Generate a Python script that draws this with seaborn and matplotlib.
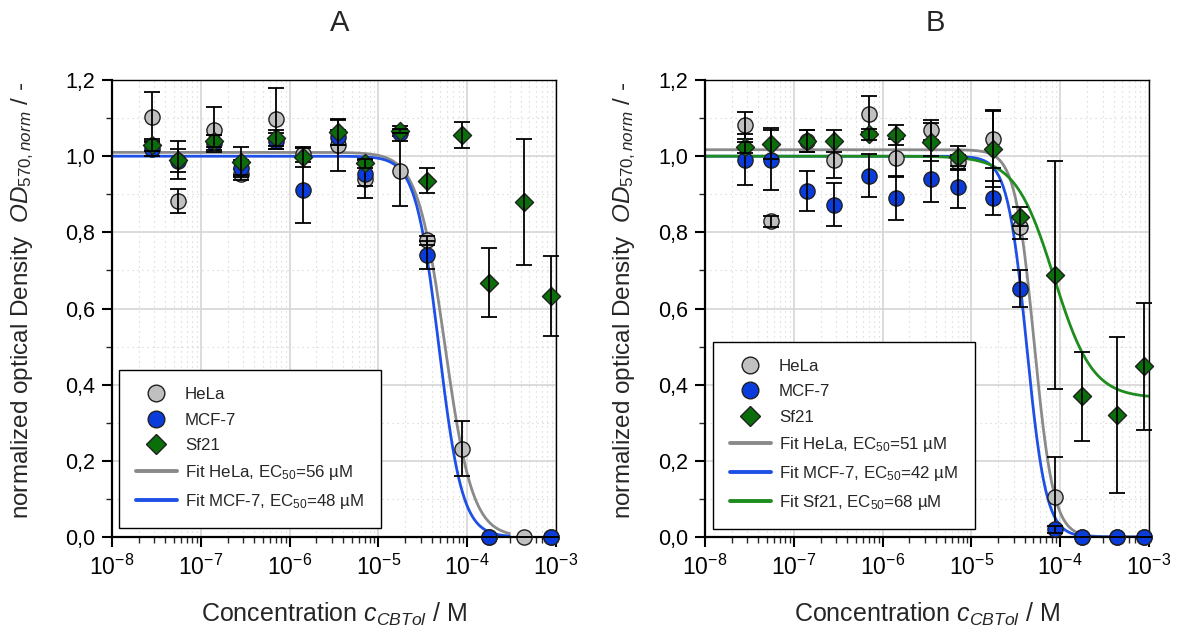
import numpy as np
import pandas as pd
import matplotlib
matplotlib.use("Agg")
import matplotlib.pyplot as plt
import matplotlib.ticker as mticker
from matplotlib.lines import Line2D
import seaborn as sns

sns.set_theme(style="white")
plt.rcParams["font.family"] = ["Liberation Sans", "DejaVu Sans"]
plt.rcParams["mathtext.fontset"] = "custom"
plt.rcParams["mathtext.rm"] = "Liberation Sans"
plt.rcParams["mathtext.it"] = "Liberation Sans:italic"
plt.rcParams["mathtext.bf"] = "Liberation Sans:bold"

# concentrations (M)
conc = [2.8e-8, 5.6e-8, 1.4e-7, 2.8e-7, 7.0e-7, 1.4e-6, 3.5e-6, 7.0e-6,
        1.75e-5, 3.5e-5, 8.75e-5, 1.75e-4, 4.375e-4, 8.75e-4]

# panel A
hela_a = [1.103, 0.882, 1.070, 0.952, 1.098, 1.005, 1.029, 0.939, 0.960, 0.779, 0.232, 0.0, 0.0, 0.0]
hela_a_err = [0.066, 0.031, 0.060, 0.015, 0.080, 0.020, 0.068, 0.050, 0.092, 0.012, 0.073, 0.0, 0.0, 0.0]
mcf_a = [1.02, 0.988, 1.035, 0.97, 1.04, 0.912, 1.05, 0.952, 1.06, 0.741, np.nan, 0.0, np.nan, 0.0]
mcf_a_err = [0.02, 0.03, 0.02, 0.02, 0.02, 0.087, 0.02, 0.03, 0.02, 0.036, np.nan, 0.0, np.nan, 0.0]
sf_a = [1.029, 0.990, 1.040, 0.984, 1.048, 0.997, 1.063, 0.981, 1.066, 0.935, 1.056, 0.668, 0.880, 0.634]
sf_a_err = [0.015, 0.05, 0.015, 0.04, 0.02, 0.025, 0.033, 0.012, 0.005, 0.033, 0.034, 0.09, 0.165, 0.105]

# panel B
hela_b = [1.081, 0.829, 1.040, 0.990, 1.111, 0.995, 1.068, 0.984, 1.046, 0.813, 0.106, 0.0, 0.0, 0.0]
hela_b_err = [0.035, 0.015, 0.03, 0.047, 0.047, 0.05, 0.026, 0.02, 0.076, 0.03, 0.105, 0.0, 0.0, 0.0]
mcf_b = [0.990, 0.990, 0.908, 0.873, 0.949, 0.890, 0.940, 0.919, 0.890, 0.652, 0.020, 0.0, 0.0, 0.0]
mcf_b_err = [0.067, 0.08, 0.052, 0.056, 0.056, 0.058, 0.06, 0.054, 0.045, 0.048, 0.01, 0.0, 0.0, 0.0]
sf_b = [1.023, 1.033, 1.040, 1.040, 1.057, 1.055, 1.037, 0.997, 1.018, 0.841, 0.688, 0.369, 0.321, 0.448]
sf_b_err = [0.015, 0.04, 0.03, 0.03, 0.015, 0.026, 0.05, 0.03, 0.1, 0.025, 0.3, 0.117, 0.205, 0.167]

# fit parameters: top, bottom, midpoint (M), hill slope, x end
fit_hela_a = [1.01, 0.0, 56e-6, 2.8, 3e-4]
fit_mcf_a = [1.0, 0.0, 48e-6, 3.3, 3e-4]
fit_hela_b = [1.017, 0.0, 51e-6, 4.0, 1e-3]
fit_mcf_b = [1.0, 0.0, 42e-6, 4.0, 1e-3]
fit_sf_b = [1.0, 0.365, 85e-6, 2.0, 1e-3]

ec50_a = ["56", "48"]
ec50_b = ["51", "42", "68"]

C_HELA = "#c0c0c0"
C_MCF = "#0a3cdc"
C_SF = "#0a6e0a"
L_HELA = "#8a8a8a"
L_MCF = "#1e50e6"
L_SF = "#1e8c1e"


def fit_curve(p):
    top, bottom, x50, h, xend = p
    x = np.logspace(-8, np.log10(xend), 400)
    y = bottom + (top - bottom) / (1 + (x / x50) ** h)
    return pd.DataFrame({"x": x, "y": y})


def draw_points(ax, y, err, marker, face, s, z):
    sns.scatterplot(x=conc, y=y, ax=ax, marker=marker, s=s, color=face,
                    edgecolor="#202020", linewidth=1.0, zorder=z, clip_on=False,
                    legend=False)
    ax.errorbar(conc, y, yerr=err, fmt="none", ecolor="black", elinewidth=1.3,
                capsize=6, capthick=1.3, zorder=z + 0.5, clip_on=False)


def draw_fit(ax, p, color):
    df = fit_curve(p)
    sns.lineplot(data=df, x="x", y="y", ax=ax, color=color, lw=2.0,
                 estimator=None, sort=False, zorder=2.5)


def style_axes(ax):
    ax.set_xscale("log")
    ax.set_xlim(1e-8, 1e-3)
    ax.set_ylim(0, 1.2)
    ax.set_axisbelow(True)
    ax.xaxis.set_major_locator(mticker.LogLocator(base=10, numticks=10))
    ax.xaxis.set_minor_locator(mticker.LogLocator(base=10, subs=np.arange(2, 10), numticks=20))
    ax.xaxis.set_minor_formatter(mticker.NullFormatter())
    ax.xaxis.set_major_formatter(mticker.FuncFormatter(
        lambda v, pos: r"$\mathregular{10^{%d}}$" % int(round(np.log10(v)))))
    ax.yaxis.set_major_locator(mticker.MultipleLocator(0.2))
    ax.yaxis.set_minor_locator(mticker.MultipleLocator(0.1))
    ax.yaxis.set_major_formatter(mticker.FuncFormatter(
        lambda v, pos: f"{v:.1f}".replace(".", ",")))
    ax.grid(which="major", color="#d6d6d6", lw=1.2, ls="-")
    ax.grid(which="minor", color="#d0d0d0", lw=0.8, ls=(0, (1, 3.5)))
    ax.tick_params(which="major", direction="out", length=7, width=1.5,
                   left=True, bottom=True, top=False, right=False,
                   labelsize=15.5, pad=5, colors="black")
    ax.tick_params(axis="x", which="major", labelsize=16.5, pad=6)
    ax.tick_params(which="minor", direction="out", length=4, width=1.0,
                   left=True, bottom=True, top=False, right=False)
    for side in ["left", "bottom"]:
        ax.spines[side].set_linewidth(1.6)
        ax.spines[side].set_color("black")
    for side in ["top", "right"]:
        ax.spines[side].set_linewidth(1.0)
        ax.spines[side].set_color("black")
    ax.set_xlabel("")
    ax.set_ylabel("")


def point_handle(marker, face, ms):
    return Line2D([], [], ls="none", marker=marker, markersize=ms,
                  markerfacecolor=face, markeredgecolor="#202020", markeredgewidth=1.0)


def line_handle(color):
    return Line2D([], [], color=color, lw=2.8)


fig = plt.figure(figsize=(11.91, 6.34), dpi=100)
W, H = 1191, 634
ax_a = fig.add_axes([112 / W, (H - 537) / H, 444 / W, 457 / H])
ax_b = fig.add_axes([705 / W, (H - 537) / H, 444 / W, 457 / H])

# panel A
draw_fit(ax_a, fit_hela_a, L_HELA)
draw_fit(ax_a, fit_mcf_a, L_MCF)
draw_points(ax_a, hela_a, hela_a_err, "o", C_HELA, 120, 3)
draw_points(ax_a, mcf_a, mcf_a_err, "o", C_MCF, 120, 4)
draw_points(ax_a, sf_a, sf_a_err, "D", C_SF, 85, 5)
style_axes(ax_a)

# panel B
draw_fit(ax_b, fit_hela_b, L_HELA)
draw_fit(ax_b, fit_mcf_b, L_MCF)
draw_fit(ax_b, fit_sf_b, L_SF)
draw_points(ax_b, hela_b, hela_b_err, "o", C_HELA, 120, 3)
draw_points(ax_b, mcf_b, mcf_b_err, "o", C_MCF, 120, 4)
draw_points(ax_b, sf_b, sf_b_err, "D", C_SF, 85, 5)
style_axes(ax_b)

pts = [point_handle("o", C_HELA, 12), point_handle("o", C_MCF, 12), point_handle("D", C_SF, 10)]
pt_labels = ["HeLa", "MCF-7", "Sf21"]
leg_kw = dict(loc="lower left", borderaxespad=0, fontsize=12.2, frameon=True,
              fancybox=False, framealpha=1, edgecolor="black", handlelength=2.4,
              handletextpad=0.5, labelspacing=0.6, borderpad=1.0)

leg_a = ax_a.legend(pts + [line_handle(L_HELA), line_handle(L_MCF)],
                    pt_labels + [r"Fit HeLa, EC$_{50}$=%s µM" % ec50_a[0],
                                 r"Fit MCF-7, EC$_{50}$=%s µM" % ec50_a[1]],
                    bbox_to_anchor=(7 / 444, 9 / 457), **leg_kw)
leg_a.get_frame().set_linewidth(1.0)
leg_a.set_zorder(10)

leg_b = ax_b.legend(pts + [line_handle(L_HELA), line_handle(L_MCF), line_handle(L_SF)],
                    pt_labels + [r"Fit HeLa, EC$_{50}$=%s µM" % ec50_b[0],
                                 r"Fit MCF-7, EC$_{50}$=%s µM" % ec50_b[1],
                                 r"Fit Sf21, EC$_{50}$=%s µM" % ec50_b[2]],
                    bbox_to_anchor=(8 / 444, 8 / 457), **leg_kw)
leg_b.get_frame().set_linewidth(1.0)
leg_b.set_zorder(10)

ylab = r"normalized optical Density  $\mathit{OD}_{\mathit{570,norm}}$ / -"
xlab = r"Concentration $c_{CBTol}$ / M"
for xc, title in [(340, "A"), (935, "B")]:
    fig.text(xc / W, 1 - 23 / H, title, ha="center", va="center", fontsize=21)
for xc in [23, 625]:
    fig.text(xc / W, 1 - 300 / H, ylab, rotation=90, ha="center", va="center", fontsize=17.5)
for xc in [334, 927]:
    fig.text(xc / W, 1 - 622 / H, xlab, ha="center", va="baseline", fontsize=18)

fig.savefig("out.png", dpi=100)
